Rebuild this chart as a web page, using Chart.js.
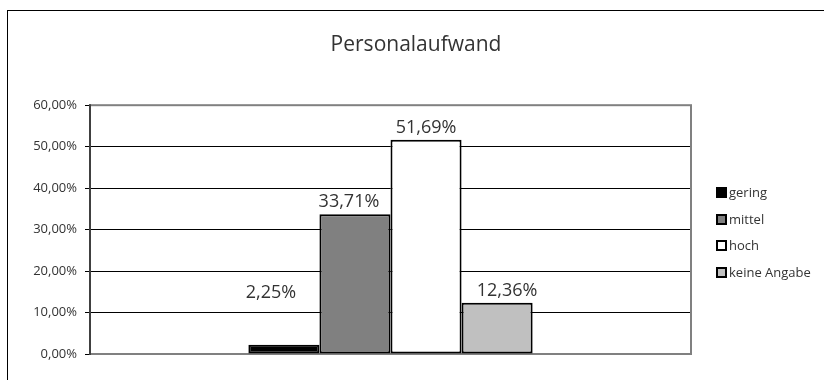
<!DOCTYPE html>
<html>
<head>
<meta charset="utf-8">
<script src="https://cdn.jsdelivr.net/npm/chart.js@4"></script>
<style>
  html, body { margin: 0; padding: 0; background: #fff; }
  #wrap { position: relative; width: 824px; height: 380px; }
  #legend { position: absolute; left: 716px; top: 183px; font-family: "Open Sans", sans-serif; font-size: 13px; color: #333; }
  #legend div { height: 26.5px; display: flex; align-items: flex-start; }
  #legend span.box { display: inline-block; width: 7px; height: 7px; border: 2px solid #000; margin-right: 2px; margin-top: 4px; }
</style>
</head>
<body>
<div id="wrap">
  <canvas id="chart" width="824" height="380"></canvas>
  <div id="legend"></div>
</div>
<script>
// Data
const categories = ['Personalaufwand'];
const seriesNames = ['gering', 'mittel', 'hoch', 'keine Angabe'];
const seriesValues = [2.25, 33.71, 51.69, 12.36];
const seriesColors = ['#000000', '#808080', '#ffffff', '#c0c0c0'];
const yTicks = [0, 10, 20, 30, 40, 50, 60];

const fmt = v => v.toFixed(2).replace('.', ',') + '%';

// Outer frame, plot frame and value labels
const framePlugin = {
    id: 'frames',
    beforeDraw(chart) {
        const c = chart.ctx;
        c.save();
        c.fillStyle = '#fff';
        c.fillRect(0, 0, chart.width, chart.height);
        c.strokeStyle = '#000';
        c.lineWidth = 1;
        c.strokeRect(7.5, 10.5, 1000, 600);
        c.restore();
    },
    beforeDatasetsDraw(chart) {
        const a = chart.chartArea;
        const c = chart.ctx;
        c.save();
        c.strokeStyle = '#808080';
        c.lineWidth = 2;
        c.strokeRect(a.left, a.top, a.right - a.left, a.bottom - a.top);
        c.strokeStyle = '#404040';
        c.beginPath();
        c.moveTo(a.left, a.top - 1);
        c.lineTo(a.left, a.bottom + 1);
        c.stroke();
        c.restore();
    },
    afterDatasetsDraw(chart, args, opts) {
        const c = chart.ctx;
        const shifts = opts.shifts || {};
        c.save();
        c.font = '18px "Open Sans", sans-serif';
        c.fillStyle = '#333';
        c.textAlign = 'center';
        c.textBaseline = 'bottom';
        chart.data.datasets.forEach((ds, i) => {
            const s = shifts[i] || { dx: 0, dy: 0 };
            chart.getDatasetMeta(i).data.forEach((bar, j) => {
                c.fillText(fmt(ds.data[j]), bar.x + s.dx, bar.y - 3 + s.dy);
            });
        });
        c.restore();
    }
};

const ctx = document.getElementById('chart').getContext('2d');
const chart = new Chart(ctx, {
    type: 'bar',
    data: {
        labels: categories,
        datasets: seriesNames.map((name, i) => ({
            label: name,
            data: [seriesValues[i]],
            backgroundColor: seriesColors[i],
            borderColor: '#000',
            borderWidth: 2,
            borderSkipped: false,
            categoryPercentage: 0.473,
            barPercentage: 1
        }))
    },
    options: {
        responsive: false,
        animation: false,
        layout: { padding: { left: 8, right: 0, top: 32, bottom: 18 } },
        plugins: {
            legend: { display: false },
            tooltip: { enabled: false },
            title: {
                display: true,
                text: categories[0],
                color: '#333',
                font: { family: '"Open Sans", sans-serif', size: 21, weight: 'normal' },
                padding: { top: 0, bottom: 48 }
            },
            // small label nudges like the original
            frames: { shifts: { 0: { dx: -13, dy: -40 }, 1: { dx: -6, dy: 0 }, 3: { dx: 10, dy: 0 } } }
        },
        scales: {
            x: {
                ticks: { display: false },
                grid: { display: false },
                border: { display: false }
            },
            y: {
                min: 0,
                max: 60,
                afterBuildTicks: axis => { axis.ticks = yTicks.map(v => ({ value: v })); },
                afterFit: axis => { axis.width = 82; },
                ticks: {
                    color: '#333',
                    padding: 8,
                    font: { family: '"Open Sans", sans-serif', size: 13 },
                    callback: v => fmt(v)
                },
                grid: { color: '#000', lineWidth: 1, tickLength: 5, tickColor: '#000' },
                border: { display: false }
            },
            // empty space on the right for the legend
            legendSpace: {
                type: 'linear',
                position: 'right',
                afterFit: axis => { axis.width = 133; },
                ticks: { display: false },
                grid: { display: false },
                border: { display: false }
            }
        }
    },
    plugins: [framePlugin]
});

// Legend
const legend = document.getElementById('legend');
seriesNames.forEach((name, i) => {
    const row = document.createElement('div');
    row.innerHTML = `<span class="box" style="background:${seriesColors[i]}"></span>${name}`;
    legend.appendChild(row);
});
</script>
</body>
</html>
